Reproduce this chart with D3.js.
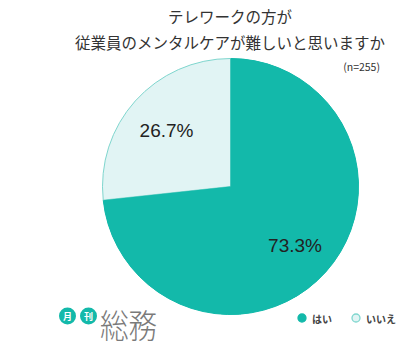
<!DOCTYPE html>
<html>
<head>
<meta charset="utf-8">
<script src="https://cdn.jsdelivr.net/npm/d3@7"></script>
<style>
  body { margin: 0; background: #fff; }
  text { font-family: "Noto Sans CJK JP", "Noto Sans", sans-serif; }
</style>
</head>
<body>
<div id="chart"></div>
<script>
// Data
const categories = ['はい', 'いいえ'];
const values = [73.3, 26.7];
const titleLines = ['テレワークの方が', '従業員のメンタルケアが難しいと思いますか'];
const sampleNote = '(n=255)';

const width = 400;
const height = 351;
const cx = 230.5, cy = 186.5, radius = 128;

const svg = d3.select('#chart').append('svg')
    .attr('width', width)
    .attr('height', height);

const color = d3.scaleOrdinal()
    .domain(categories)
    .range(['#13b9aa', '#e1f4f4']);
const strokeColor = d3.scaleOrdinal()
    .domain(categories)
    .range(['#13b9aa', '#7fd6ce']);

// title
svg.selectAll('.title')
    .data(titleLines)
    .enter()
    .append('text')
    .attr('x', 230)
    .attr('y', (d, i) => 23 + i * 26)
    .attr('text-anchor', 'middle')
    .style('font-size', '15.5px')
    .style('fill', '#333')
    .text(d => d);

svg.append('text')
    .attr('x', 380)
    .attr('y', 71)
    .attr('text-anchor', 'end')
    .style('font-size', '10.5px')
    .style('fill', '#333')
    .text(sampleNote);

// pie
const pie = d3.pie().value(d => d.value).sort(null);
const arc = d3.arc().innerRadius(0).outerRadius(radius);
const pieData = pie(categories.map((c, i) => ({ label: c, value: values[i] })));

const g = svg.append('g').attr('transform', `translate(${cx},${cy})`);

g.selectAll('path')
    .data(pieData)
    .enter()
    .append('path')
    .attr('d', arc)
    .attr('fill', d => color(d.data.label))
    .attr('stroke', d => strokeColor(d.data.label))
    .attr('stroke-width', 1);

// redraw the teal slice so its edge sits on top
g.append('path')
    .datum(pieData[0])
    .attr('d', arc)
    .attr('fill', color(categories[0]));

const labelPos = [[64.5, 58], [-64, -57]];
g.selectAll('.label')
    .data(pieData)
    .enter()
    .append('text')
    .attr('x', (d, i) => labelPos[i][0])
    .attr('y', (d, i) => labelPos[i][1] + 7)
    .attr('text-anchor', 'middle')
    .style('font-family', '"Liberation Sans", Arial, sans-serif')
    .style('font-size', '19px')
    .style('fill', '#222')
    .text(d => d.data.value.toFixed(1) + '%');

// logo
const logo = svg.append('g');
[['月', 67.5], ['刊', 88.5]].forEach(([ch, x]) => {
    logo.append('circle')
        .attr('cx', x).attr('cy', 316).attr('r', 8.5)
        .attr('fill', '#13b9aa');
    logo.append('text')
        .attr('x', x).attr('y', 316)
        .attr('text-anchor', 'middle')
        .attr('dominant-baseline', 'central')
        .style('font-size', '9px')
        .style('font-weight', 'bold')
        .style('fill', '#fff')
        .text(ch);
});
logo.append('text')
    .attr('transform', 'translate(100,338) scale(0.88,1)')
    .style('font-size', '32.5px')
    .style('font-weight', '300')
    .style('fill', '#7a7a7a')
    .text('総務');

// legend
const legendX = [302, 356];
const legend = svg.selectAll('.legend')
    .data(categories)
    .enter()
    .append('g')
    .attr('transform', (d, i) => `translate(${legendX[i]},318)`);

legend.append('circle')
    .attr('r', 4)
    .attr('fill', d => color(d))
    .attr('stroke', d => strokeColor(d))
    .attr('stroke-width', 1.3);

legend.append('text')
    .attr('x', 10)
    .attr('dominant-baseline', 'central')
    .style('font-size', '10px')
    .style('font-weight', 'bold')
    .style('fill', '#444')
    .text(d => d);
</script>
</body>
</html>
